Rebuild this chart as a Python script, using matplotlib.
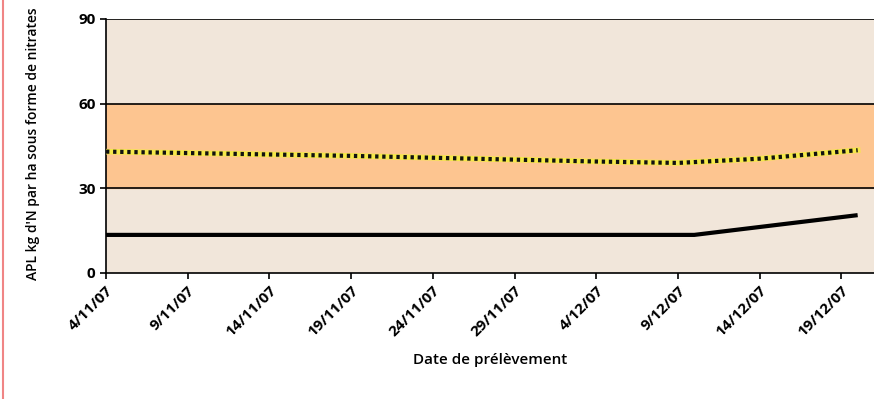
import matplotlib
matplotlib.use('Agg')
import matplotlib.pyplot as plt
import pandas as pd
from matplotlib.lines import Line2D

plt.rcParams['font.family'] = ['Open Sans', 'DejaVu Sans']

# tick dates
tick_dates = pd.to_datetime(['2007-11-04', '2007-11-09', '2007-11-14', '2007-11-19', '2007-11-24',
                             '2007-11-29', '2007-12-04', '2007-12-09', '2007-12-14', '2007-12-19'])
tick_labels = ['4/11/07', '9/11/07', '14/11/07', '19/11/07', '24/11/07',
               '29/11/07', '4/12/07', '9/12/07', '14/12/07', '19/12/07']

# measured APL (solid black)
apl_dates = pd.to_datetime(['2007-11-04', '2007-12-10', '2007-12-20'])
apl_values = [13.5, 13.5, 20.5]

# reference line (dotted)
ref_dates = pd.to_datetime(['2007-11-04', '2007-11-19', '2007-12-04', '2007-12-09', '2007-12-14', '2007-12-20'])
ref_values = [43, 41.5, 39.5, 39, 40.5, 43.5]

band_low, band_high = 30, 60

fig = plt.figure(figsize=(8.74, 3.99), dpi=100)
ax = fig.add_axes([0.1213, 0.3158, 0.8787, 0.6366])

ax.set_facecolor('#f1e6da')
ax.axhspan(band_low, band_high, color='#fdc590', zorder=0)
for y in [30, 60, 90]:
    ax.axhline(y, color='black', lw=1.2, zorder=1)

ax.plot(apl_dates, apl_values, color='black', lw=3, solid_capstyle='butt', zorder=3)
ax.plot(ref_dates, ref_values, color='#f5e84a', lw=4, zorder=3)
ax.plot(ref_dates, ref_values, color='#111111', lw=3, linestyle=(0, (0.8, 0.9)), zorder=4)

ax.set_xlim(pd.Timestamp('2007-11-04'), pd.Timestamp('2007-12-21 00:00'))
ax.set_ylim(0, 90)
ax.set_yticks([0, 30, 60, 90])
ax.set_xticks(tick_dates)
ax.set_xticklabels(tick_labels, rotation=45, ha='right', rotation_mode='anchor')
ax.tick_params(axis='both', labelsize=11, width=1.2, length=4, color='black')
for lab in ax.get_xticklabels() + ax.get_yticklabels():
    lab.set_fontweight('bold')

for s in ['top', 'right']:
    ax.spines[s].set_visible(False)
ax.spines['left'].set_linewidth(1.2)
ax.spines['bottom'].set_linewidth(1.2)

ax.set_xlabel('Date de prélèvement', fontsize=11, fontweight='semibold', labelpad=10)
fig.text(0.038, 0.298, "APL kg d'N par ha sous forme de nitrates", rotation=90,
         ha='center', va='bottom', fontsize=10, fontweight='semibold')

fig.add_artist(Line2D([0.003, 0.003], [0, 1], color='#f08585', lw=1.5, transform=fig.transFigure))

fig.savefig('out.png', dpi=100)
